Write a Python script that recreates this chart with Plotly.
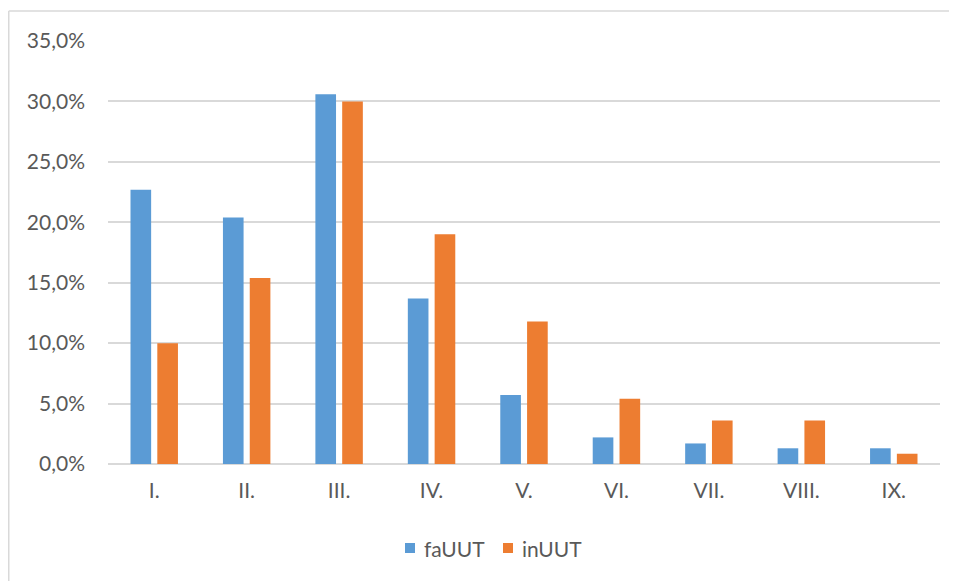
import plotly.graph_objects as go

categories = ["I.", "II.", "III.", "IV.", "V.", "VI.", "VII.", "VIII.", "IX."]
faUUT = [0.227, 0.204, 0.306, 0.137, 0.057, 0.022, 0.017, 0.013, 0.013]
inUUT = [0.100, 0.154, 0.300, 0.190, 0.118, 0.054, 0.036, 0.036, 0.0085]
y_ticks = [0, 0.05, 0.10, 0.15, 0.20, 0.25, 0.30, 0.35]
series_names = ["faUUT", "inUUT"]
series_colors = ["#5B9BD5", "#ED7D31"]

# page has 8px body margin; figure coordinates = page coordinates - 8
W, H = 957, 581
L, R, T, B = 100, 25, 33, 125
pw, ph = W - L - R, H - T - B
FS = 21

def px(x):
    return (x - L) / pw

def py(y):
    return (H - B - y) / ph

fig = go.Figure()
for name, vals, col in zip(series_names, [faUUT, inUUT], series_colors):
    fig.add_trace(go.Bar(name=name, x=categories, y=vals, marker_color=col,
                         marker_line_width=0, showlegend=False))

# manual legend (square + label)
legend_x = [397, 495]
legend_y = 540
shapes = [
    dict(type="line", xref="paper", yref="paper", x0=px(0.75), x1=px(W + 5),
         y0=py(3), y1=py(3), line=dict(color="#D9D9D9", width=1.5)),
    dict(type="line", xref="paper", yref="paper", x0=px(0.75), x1=px(0.75),
         y0=py(3), y1=py(H + 5), line=dict(color="#D9D9D9", width=1.5)),
]
annotations = []
for name, col, lx in zip(series_names, series_colors, legend_x):
    shapes.append(dict(type="rect", xref="paper", yref="paper",
                       x0=px(lx), x1=px(lx + 10), y0=py(legend_y - 5), y1=py(legend_y + 5),
                       fillcolor=col, line=dict(width=0)))
    annotations.append(dict(text=name, xref="paper", yref="paper", x=px(lx + 17),
                            y=py(legend_y), xanchor="left", yanchor="middle",
                            showarrow=False, font=dict(size=FS, color="#595959")))

fig.update_layout(
    width=W, height=H,
    margin=dict(l=L, r=R, t=T, b=B),
    paper_bgcolor="white", plot_bgcolor="white",
    barmode="group", bargap=0.42, bargroupgap=0.23,
    separators=", ",
    font=dict(family="Lato, Calibri, sans-serif", size=FS, color="#595959"),
    showlegend=False,
    xaxis=dict(showgrid=False, showline=False, ticks="", zeroline=False,
               ticklabelstandoff=12),
    yaxis=dict(range=[0, 0.35], tickvals=y_ticks, tickformat=".1%",
               showgrid=True, gridcolor="#D9D9D9", gridwidth=1.5,
               zeroline=True, zerolinecolor="#D9D9D9", zerolinewidth=1.5,
               showline=False, ticks="", ticklabelstandoff=22),
    shapes=shapes,
    annotations=annotations,
)

fig.write_html("out.html")
